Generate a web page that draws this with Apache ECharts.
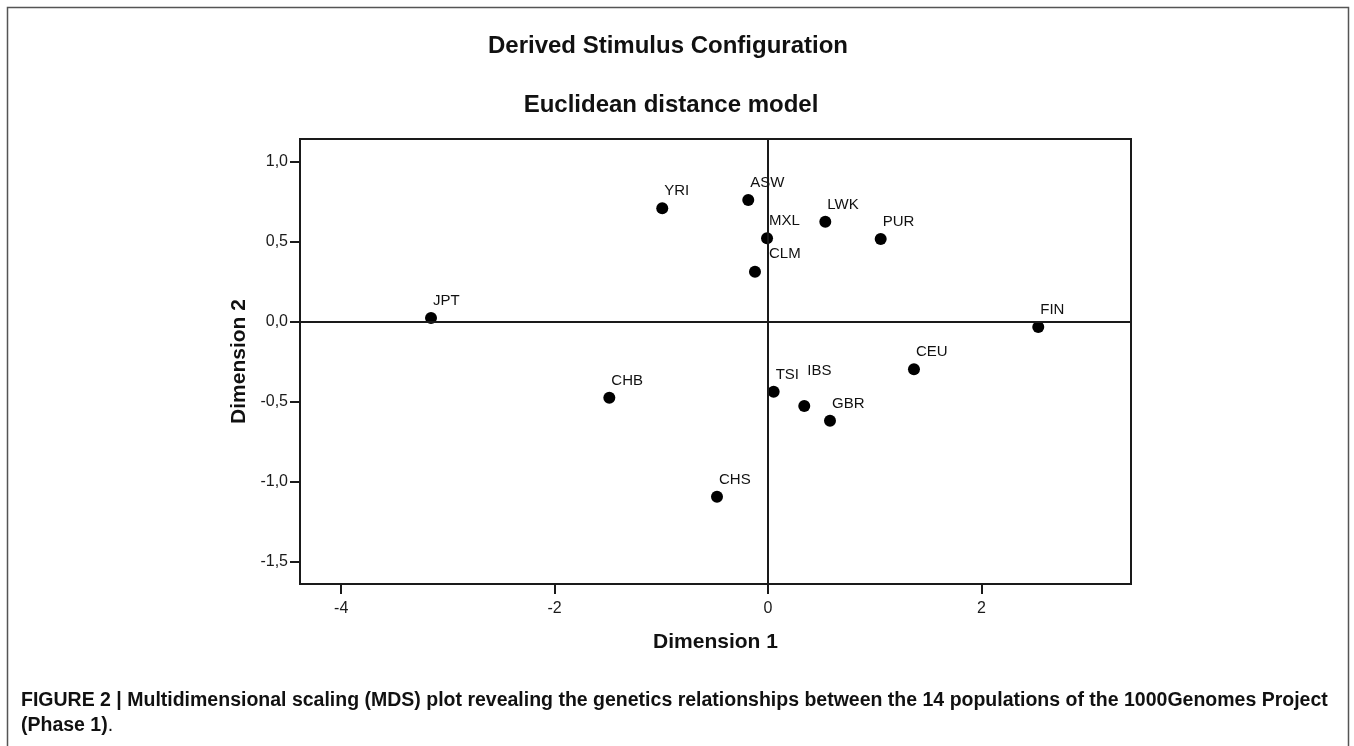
<!DOCTYPE html>
<html>
<head>
<meta charset="utf-8">
<style>
  html, body { margin: 0; padding: 0; background: #fff; }
  #chart { width: 1354px; height: 746px; }
</style>
<script src="https://cdn.jsdelivr.net/npm/echarts@6/dist/echarts.min.js"></script>
</head>
<body>
<div id="chart"></div>
<script>
// ---- data ----
const populations = ['JPT', 'YRI', 'CHB', 'ASW', 'MXL', 'CLM', 'LWK', 'PUR', 'FIN', 'CEU', 'TSI', 'IBS', 'GBR', 'CHS'];
const dimension1 = [-3.158, -0.991, -1.487, -0.185, -0.009, -0.122, 0.537, 1.056, 2.533, 1.368, 0.053, 0.340, 0.581, -0.478];
const dimension2 = [0.023, 0.708, -0.474, 0.760, 0.521, 0.312, 0.624, 0.516, -0.033, -0.297, -0.437, -0.526, -0.618, -1.092];
const xTicks = [-4, -2, 0, 2];
const yTicks = [-1.5, -1.0, -0.5, 0, 0.5, 1.0];
const xRange = [-4.386, 3.402];
const yRange = [-1.637, 1.140];

const titleText = 'Derived Stimulus Configuration';
const subtitleText = 'Euclidean distance model';
const xName = 'Dimension 1';
const yName = 'Dimension 2';
const captionLine1 = 'FIGURE 2 | Multidimensional scaling (MDS) plot revealing the genetics relationships between the 14 populations of the 1000Genomes Project';
const captionLine2 = '(Phase 1)';

// ---- style (label placement tweaks, like SPSS collision avoidance) ----
const defaultLabelPos = [8, -11];
const labelPosTweaks = { IBS: [9, -29], CLM: [20, -12] };

const fontFamily = '"Liberation Sans", Arial, sans-serif';
const fmt = v => v.toFixed(1).replace('.', ',');

const points = populations.map((name, i) => ({
  name: name,
  value: [dimension1[i], dimension2[i]],
  label: { position: labelPosTweaks[name] || defaultLabelPos }
}));

const chart = echarts.init(document.getElementById('chart'), null, { renderer: 'canvas' });

const option = {
  animation: false,
  backgroundColor: '#ffffff',
  title: [
    {
      text: titleText, left: 663, top: 29, textAlign: 'center',
      textStyle: { fontFamily, fontSize: 24, fontWeight: 'bold', color: '#111' }
    },
    {
      text: subtitleText, left: 666, top: 88, textAlign: 'center',
      textStyle: { fontFamily, fontSize: 24, fontWeight: 'bold', color: '#111' }
    }
  ],
  grid: {
    left: 300, right: 223, top: 139, bottom: 162,
    show: true, borderColor: '#1a1a1a', borderWidth: 2, backgroundColor: 'transparent'
  },
  xAxis: {
    type: 'value', min: xRange[0], max: xRange[1],
    name: xName, nameLocation: 'middle', nameGap: 48,
    nameTextStyle: { fontFamily, fontSize: 21, fontWeight: 'bold', color: '#111' },
    axisLine: { show: true, onZero: false, lineStyle: { color: '#1a1a1a', width: 2 } },
    axisTick: { show: true, inside: false, length: 10, customValues: xTicks, lineStyle: { color: '#1a1a1a', width: 2 } },
    axisLabel: { customValues: xTicks, margin: 17, fontFamily, fontSize: 16, color: '#1a1a1a', formatter: v => String(v) },
    splitLine: { show: false }
  },
  yAxis: {
    type: 'value', min: yRange[0], max: yRange[1],
    name: yName, nameLocation: 'middle', nameGap: 47,
    nameTextStyle: { fontFamily, fontSize: 21, fontWeight: 'bold', color: '#111' },
    axisLine: { show: true, onZero: false, lineStyle: { color: '#1a1a1a', width: 2 } },
    axisTick: { show: true, inside: false, length: 10, customValues: yTicks, lineStyle: { color: '#1a1a1a', width: 2 } },
    axisLabel: { customValues: yTicks, margin: 12, fontFamily, fontSize: 16, color: '#1a1a1a', formatter: v => fmt(v) },
    splitLine: { show: false }
  },
  series: [{
    type: 'scatter',
    symbol: 'circle',
    symbolSize: 12,
    itemStyle: { color: '#000', opacity: 1 },
    data: points,
    label: {
      show: true,
      formatter: p => p.name,
      align: 'left', verticalAlign: 'middle',
      fontFamily, fontSize: 15, color: '#111'
    },
    emphasis: { disabled: true },
    markLine: {
      silent: true, symbol: 'none', animation: false,
      label: { show: false },
      lineStyle: { color: '#1a1a1a', width: 2, type: 'solid' },
      data: [{ xAxis: 0 }, { yAxis: 0 }]
    },
    z: 3
  }],
  graphic: [
    {
      type: 'rect', silent: true,
      shape: { x: 7.5, y: 7.5, width: 1341, height: 760 },
      style: { fill: 'none', stroke: '#555', lineWidth: 1.5 }
    },
    {
      type: 'text', x: 21, y: 701, silent: true,
      style: {
        text: captionLine1, fontFamily, fontSize: 19.5, fontWeight: 'bold', fill: '#111',
        textVerticalAlign: 'middle', textAlign: 'left'
      }
    },
    {
      type: 'text', x: 21, y: 726, silent: true,
      style: {
        text: '{b|' + captionLine2 + '}{n|.}',
        rich: {
          b: { fontFamily, fontSize: 19.5, fontWeight: 'bold', fill: '#111', color: '#111' },
          n: { fontFamily, fontSize: 19.5, fontWeight: 'normal', fill: '#111', color: '#111' }
        },
        textVerticalAlign: 'middle', textAlign: 'left'
      }
    }
  ]
};

chart.setOption(option);
</script>
</body>
</html>
